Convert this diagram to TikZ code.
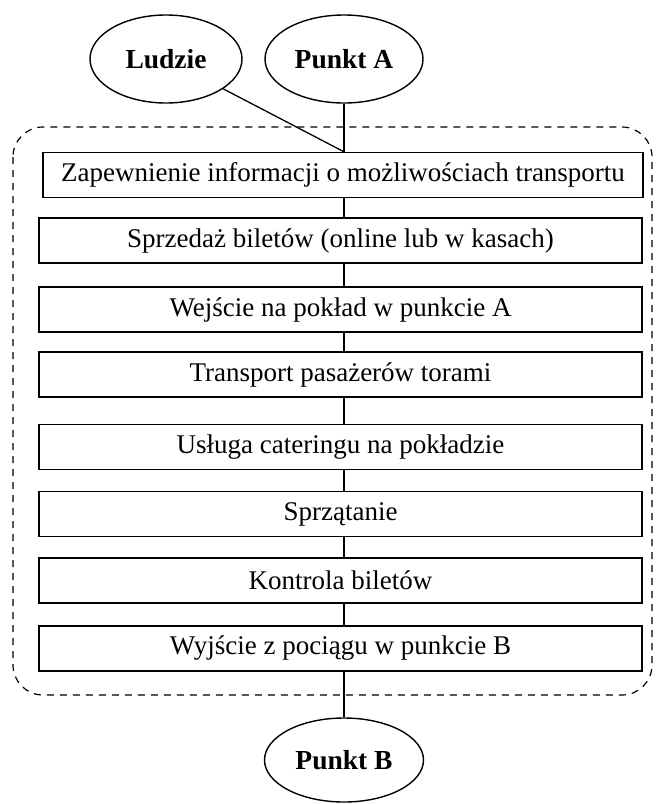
\documentclass[tikz,border=0pt]{standalone}
\usepackage{fontspec}
\setmainfont{Liberation Serif}
\usetikzlibrary{shapes.geometric}
\tikzset{
  stepbox/.style={draw, line width=1.4pt, minimum height=45pt, inner sep=0pt, font=\fontsize{27}{30}\selectfont},
  endpoint/.style={draw, ellipse, line width=1.4pt, inner sep=0pt, font=\fontsize{27.5}{31}\selectfont\bfseries},
  conn/.style={line width=1.3pt},
  boundary/.style={draw, line width=1.2pt, dash pattern=on 7pt off 6pt, rounded corners=30pt}
}
\begin{document}
\begin{tikzpicture}[x=1pt,y=-1pt]
\useasboundingbox (0,0) rectangle (656,804);
\draw[boundary] (13,127) rectangle (652,695);
\node[endpoint, minimum width=152pt, minimum height=88pt] (ludzie) at (166,59) {Ludzie};
\node[endpoint, minimum width=158pt, minimum height=88pt] (pa) at (344,59) {Punkt A};
\node[endpoint, minimum width=159pt, minimum height=84pt] (pb) at (344,760) {Punkt B};
\node[stepbox, minimum width=600pt] (s1) at (343,175) {Zapewnienie informacji o możliwościach transportu};
\node[stepbox, minimum width=603pt] (s2) at (340.5,240.5) {Sprzedaż biletów (online lub w kasach)};
\node[stepbox, minimum width=603pt] (s3) at (340.5,309.5) {Wejście na pokład w punkcie A};
\node[stepbox, minimum width=603pt] (s4) at (340.5,374.5) {Transport pasażerów torami};
\node[stepbox, minimum width=603pt] (s5) at (340.5,447) {Usługa cateringu na pokładzie};
\node[stepbox, minimum width=603pt] (s6) at (340.5,514) {Sprzątanie};
\node[stepbox, minimum width=603pt] (s7) at (340.5,580.5) {Kontrola biletów};
\node[stepbox, minimum width=603pt] (s8) at (340.5,648.5) {Wyjście z pociągu w punkcie B};
\coordinate (join) at (pa.south |- s1.north);
\draw[conn] (pa.south) -- (join);
\draw[conn] (ludzie) -- (join);
\draw[conn] (s1.south -| pa.south) -- (s2.north -| pa.south);
\draw[conn] (s2.south -| pa.south) -- (s3.north -| pa.south);
\draw[conn] (s3.south -| pa.south) -- (s4.north -| pa.south);
\draw[conn] (s4.south -| pa.south) -- (s5.north -| pa.south);
\draw[conn] (s5.south -| pa.south) -- (s6.north -| pa.south);
\draw[conn] (s6.south -| pa.south) -- (s7.north -| pa.south);
\draw[conn] (s7.south -| pa.south) -- (s8.north -| pa.south);
\draw[conn] (s8.south -| pa.south) -- (pb.north);
\end{tikzpicture}
\end{document}
